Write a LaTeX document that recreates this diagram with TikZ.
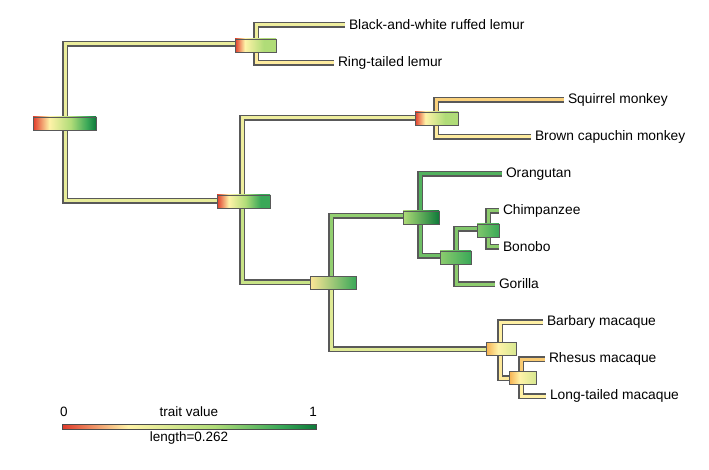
\documentclass[tikz,border=0pt]{standalone}
\usepackage{fontspec}
\setmainfont{Liberation Sans}
\definecolor{tred}{HTML}{E03A2A}
\definecolor{torange}{HTML}{F5B050}
\definecolor{tcream}{HTML}{FFF3A8}
\definecolor{tlgreen}{HTML}{B0DC78}
\definecolor{tgreen}{HTML}{3AA858}
\definecolor{tdgreen}{HTML}{0E7A3A}
\pgfdeclarehorizontalshading{traitmap}{100bp}{color(0bp)=(tred); color(25bp)=(tred); color(38bp)=(tcream); color(55bp)=(tlgreen); color(68bp)=(tgreen); color(75bp)=(tdgreen); color(100bp)=(tdgreen)}
\pgfdeclarehorizontalshading{redlight}{100bp}{color(0bp)=(tred); color(25bp)=(tred); color(37bp)=(tcream); color(60bp)=(tlgreen); color(100bp)=(tlgreen)}
\pgfdeclarehorizontalshading{redgreen}{100bp}{color(0bp)=(tred); color(25bp)=(tred); color(36bp)=(tcream); color(52bp)=(tlgreen); color(66bp)=(tgreen); color(100bp)=(tgreen)}
\pgfdeclarehorizontalshading{orangelight}{100bp}{color(0bp)=(torange); color(25bp)=(torange); color(45bp)=(tcream); color(75bp)=(tcream!50!tlgreen); color(100bp)=(tcream!50!tlgreen)}
\begin{document}
\begin{tikzpicture}[
        x = 1pt, y = -1pt, % pixel grid of the plot
        branch/.style = {draw = black!65, line width = 1.1pt, double = #1,
        double distance = 3pt},
        bar/.style = {draw = black!65, line width = 0.6pt, minimum height = 13pt,
        inner sep = 0pt},
        tip/.style = {anchor = west, inner xsep = 4pt, inner ysep = 0pt,
        outer sep = 0pt, font = \fontsize{13.8}{16}\selectfont}
    ]
    \useasboundingbox (0,0) rectangle (709,470);

    % internal nodes
    \coordinate (root) at (65,124);
    \coordinate (lemurs) at (256,44);
    \coordinate (anthro) at (242,201);
    \coordinate (nwm) at (436,118);
    \coordinate (catar) at (331,282);
    \coordinate (hom) at (420,216);
    \coordinate (afr) at (456,256);
    \coordinate (pan) at (488,229);
    \coordinate (mac) at (500,349);
    \coordinate (rl) at (521,378);

    % tips
    \node[tip] (bwl) at (345,25) {Black-and-white ruffed lemur};
    \node[tip] (rtl) at (334,63) {Ring-tailed lemur};
    \node[tip] (sqm) at (564,100) {Squirrel monkey};
    \node[tip] (bcm) at (531,137) {Brown capuchin monkey};
    \node[tip] (ora) at (502,174) {Orangutan};
    \node[tip] (chi) at (499,211) {Chimpanzee};
    \node[tip] (bon) at (499,247) {Bonobo};
    \node[tip] (gor) at (495,284) {Gorilla};
    \node[tip] (bam) at (543,322) {Barbary macaque};
    \node[tip] (rhm) at (545,359) {Rhesus macaque};
    \node[tip] (ltm) at (546,396) {Long-tailed macaque};

    % branches
    \draw[branch=tcream!75!tlgreen] (root) |- (lemurs);
    \draw[branch=tcream!70!tlgreen] (root) |- (anthro);
    \draw[branch=tcream!80!tlgreen] (lemurs) |- (bwl);
    \draw[branch=tcream!90!torange] (lemurs) |- (rtl);
    \draw[branch=tcream!80!tlgreen] (anthro) |- (nwm);
    \draw[branch=tcream!30!tlgreen] (anthro) |- (catar);
    \draw[branch=tcream!50!torange] (nwm) |- (sqm);
    \draw[branch=tcream!90!torange] (nwm) |- (bcm);
    \draw[branch=tlgreen!75!tgreen] (catar) |- (hom);
    \draw[branch=tcream!60!tlgreen] (catar) |- (mac);
    \draw[branch=tgreen!80!tlgreen] (hom) |- (ora);
    \draw[branch=tlgreen!45!tgreen] (hom) |- (afr);
    \draw[branch=tlgreen!60!tgreen] (afr) |- (pan);
    \draw[branch=tlgreen!70!tgreen] (afr) |- (gor);
    \draw[branch=tlgreen!70!tgreen] (pan) |- (chi);
    \draw[branch=tlgreen!70!tgreen] (pan) |- (bon);
    \draw[branch=tcream!95!torange] (mac) |- (bam);
    \draw[branch=tcream!85!torange] (mac) |- (rl);
    \draw[branch=tcream!40!torange] (rl) |- (rhm);
    \draw[branch=tcream!95!torange] (rl) |- (ltm);

    % node bars
    \node[bar, shading=traitmap, minimum width=63pt] (broot) at (64.5,123.5) {};
    \node[bar, shading=redlight, minimum width=41pt] (blemurs) at (255.5,45.5) {};
    \node[bar, shading=redgreen, minimum width=53pt] (banthro) at (243.5,201.5) {};
    \node[bar, shading=redlight, minimum width=43pt] (bnwm) at (436.5,118.5) {};
    \node[bar, left color=tcream!80!torange, middle color=tlgreen, right color=tgreen,
    minimum width=46pt] (bcatar) at (333,282.5) {};
    \node[bar, left color=tlgreen, right color=tdgreen, minimum width=36pt] (bhom)
    at (421,217.5) {};
    \node[bar, left color=tlgreen!70!tgreen, right color=tgreen, minimum width=31pt]
    (bafr) at (455.5,257.5) {};
    \node[bar, left color=tlgreen!60!tgreen, right color=tgreen, minimum width=22pt]
    (bpan) at (488,230.5) {};
    \node[bar, shading=orangelight, minimum width=30pt] (bmac) at (501,348.5) {};
    \node[bar, shading=orangelight, minimum width=27pt] (brl) at (522.5,377.5) {};

    % legend
    \node[draw=black!70, line width=0.4pt, shading=traitmap, minimum width=254pt,
    minimum height=4.5pt, inner sep=0pt] (scale) at (189,426.5) {};
    \node[font=\fontsize{13.5}{16}\selectfont] (lo) at (64,412) {0};
    \node[font=\fontsize{13.5}{16}\selectfont] (mid) at (189,412) {trait value};
    \node[font=\fontsize{13.5}{16}\selectfont] (hi) at (313,412) {1};
    \node[font=\fontsize{13.5}{16}\selectfont] (len) at (189,438) {length=0.262};
\end{tikzpicture}
\end{document}
